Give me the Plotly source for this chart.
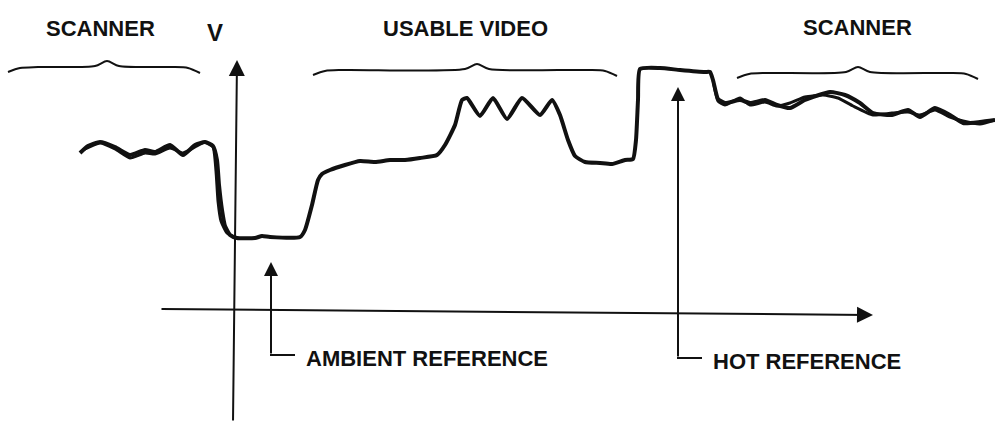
import plotly.graph_objects as go

# ---- data (time t, signal voltage v; arbitrary units, origin at axes crossing) ----
sweep1_t = [-153, -145, -133, -118, -103, -88, -78, -63, -50, -38, -28, -20, -16, -14, -11, -8, -3, 4,
            22, 29, 37, 67, 72, 79, 85, 89, 97, 112, 127, 142, 157, 172, 187, 204, 212, 222, 229, 234,
            247, 260, 274, 289, 307, 319, 327, 335, 342, 352, 367, 379, 392, 400, 403, 405, 407,
            427, 447, 472, 477, 480, 485, 492, 507, 517, 532, 544, 557, 572, 597, 612, 627, 640,
            659, 675, 687, 702, 717, 730, 747, 762]
sweep1_v = [158, 165, 169, 164, 156, 161, 159, 166, 156, 166, 169, 165, 151, 126, 101, 85, 76, 73,
            73, 75, 74, 74, 81, 106, 131, 137, 141, 146, 150, 149, 151, 151, 153, 156, 166, 186, 211, 213,
            195, 213, 192, 213, 196, 211, 196, 171, 155, 149, 148, 147, 151, 152, 171, 211, 242,
            243, 241, 239, 239, 231, 212, 208, 211, 208, 211, 206, 203, 211, 219, 216, 208, 198,
            196, 201, 194, 203, 196, 188, 189, 191]

# second (overlapping) sweep in the scanner regions
sweep2_t = [-150, -133, -118, -103, -88, -78, -63, -50, -38, -28, -20, -17, -15, -12, -6, 4, None,
            480, 485, 492, 507, 517, 532, 544, 557, 572, 590, 605, 620, 640, 659, 675, 687, 702, 717,
            730, 747, 762]
sweep2_v = [161, 168, 162, 153, 158, 157, 163, 158, 164, 169, 164, 140, 110, 90, 78, 73, None,
            231, 210, 206, 213, 206, 209, 205, 208, 214, 216, 213, 205, 196, 198, 199, 196, 201, 194,
            190, 187, 191]

region_labels = ["SCANNER", "USABLE VIDEO", "SCANNER"]
region_start = [-225, 80, 504]
region_end = [-33, 384, 745]
region_peak = [-126, 244, 625]
region_level = [245, 242, 239]

ref_labels = ["AMBIENT REFERENCE", "HOT REFERENCE"]
ref_t = [38, 445]          # time of the reference pulses
ref_tip_v = [49, 224]

BLACK = "#111111"
FONT = "Liberation Sans, Arial, sans-serif"

fig = go.Figure()

# braces over regions
for x0, x1, xp, lv in zip(region_start, region_end, region_peak, region_level):
    bx = [x0, x0 + 12, x0 + 30, xp - 12, xp, xp + 12, x1 - 30, x1 - 12, x1]
    by = [lv - 6, lv - 2, lv - 1, lv, lv + 5, lv, lv - 1, lv - 2, lv - 7]
    fig.add_trace(go.Scatter(x=bx, y=by, mode="lines",
                             line=dict(color=BLACK, width=2, shape="spline", smoothing=0.8),
                             hoverinfo="skip", showlegend=False))

# waveform sweeps
fig.add_trace(go.Scatter(x=sweep2_t, y=sweep2_v, mode="lines",
                         line=dict(color=BLACK, width=3, shape="spline", smoothing=0.5),
                         connectgaps=False, hoverinfo="skip", showlegend=False))
fig.add_trace(go.Scatter(x=sweep1_t, y=sweep1_v, mode="lines",
                         line=dict(color=BLACK, width=4, shape="spline", smoothing=0.5),
                         hoverinfo="skip", showlegend=False))

# axes drawn as arrows
fig.add_annotation(x=4, y=251, ax=0, ay=-111, xref="x", yref="y", axref="x", ayref="y",
                   showarrow=True, arrowhead=2, arrowsize=1.6, arrowwidth=2, arrowcolor=BLACK, text="")
fig.add_annotation(x=640, y=-4, ax=-73, ay=2, xref="x", yref="y", axref="x", ayref="y",
                   showarrow=True, arrowhead=2, arrowsize=1.6, arrowwidth=2, arrowcolor=BLACK, text="")
fig.add_annotation(x=-18, y=279, text="<b>V</b>", showarrow=False,
                   font=dict(family=FONT, size=24, color=BLACK))

# reference leaders
leader_bottom = [-44, -47]
for lab, t, tip, lb in zip(ref_labels, ref_t, ref_tip_v, leader_bottom):
    fig.add_annotation(x=t, y=tip, ax=t, ay=lb, xref="x", yref="y", axref="x", ayref="y",
                       showarrow=True, arrowhead=2, arrowsize=1.4, arrowwidth=2, arrowcolor=BLACK, text="")
    fig.add_shape(type="line", x0=t - 1, y0=lb, x1=t + 24, y1=lb, line=dict(color=BLACK, width=2))
    fig.add_annotation(x=t + 33, y=lb - 3, text="<b>" + lab + "</b>", showarrow=False, xanchor="left",
                       font=dict(family=FONT, size=22, color=BLACK))

# region labels
label_v = [283, 283, 284]
for lab, x0, x1, lv in zip(region_labels, region_start, region_end, label_v):
    cx = (x0 + x1) / 2
    fig.add_annotation(x=cx - (4 if lab == "SCANNER" and x0 < 0 else 0), y=lv, text="<b>" + lab + "</b>",
                       showarrow=False, font=dict(family=FONT, size=22, color=BLACK))

fig.update_layout(width=995, height=426, margin=dict(l=0, r=0, t=0, b=0),
                  paper_bgcolor="white", plot_bgcolor="white",
                  xaxis=dict(range=[-233, 762], visible=False, fixedrange=True),
                  yaxis=dict(range=[-115, 311], visible=False, fixedrange=True))

fig.write_html("out.html", config={"displayModeBar": False},
               post_script="document.body.style.margin='0';document.body.style.overflow='hidden';")
